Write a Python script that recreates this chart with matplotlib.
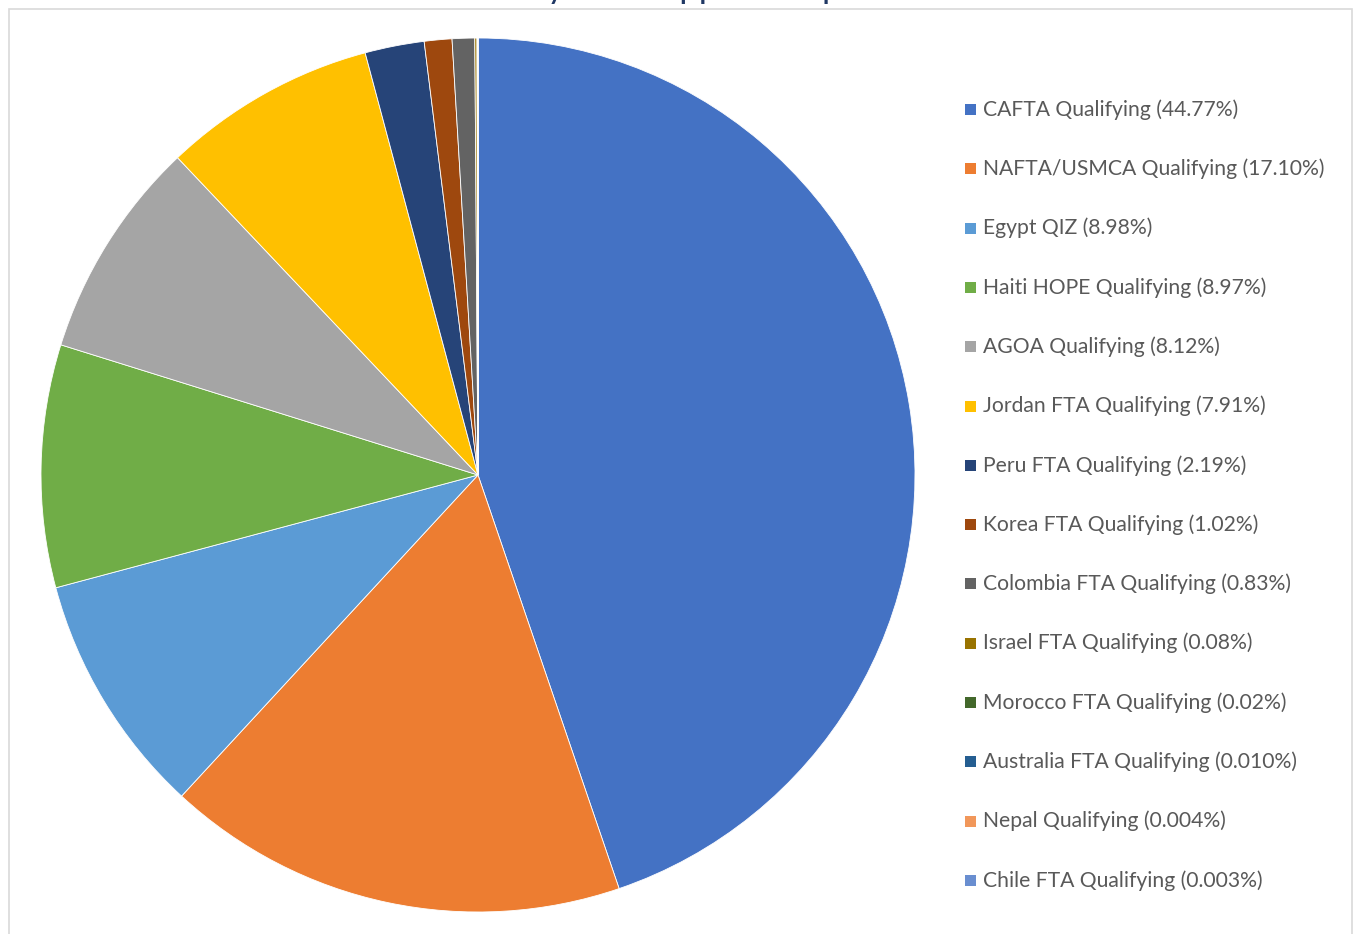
import matplotlib
matplotlib.use("Agg")
import matplotlib.pyplot as plt
from matplotlib.patches import Rectangle
from matplotlib.transforms import IdentityTransform

labels = ["CAFTA Qualifying", "NAFTA/USMCA Qualifying", "Egypt QIZ", "Haiti HOPE Qualifying",
          "AGOA Qualifying", "Jordan FTA Qualifying", "Peru FTA Qualifying", "Korea FTA Qualifying",
          "Colombia FTA Qualifying", "Israel FTA Qualifying", "Morocco FTA Qualifying",
          "Australia FTA Qualifying", "Nepal Qualifying", "Chile FTA Qualifying"]
shares = [44.77, 17.10, 8.98, 8.97, 8.12, 7.91, 2.19, 1.02, 0.83, 0.08, 0.02, 0.010, 0.004, 0.003]
share_text = ["44.77%", "17.10%", "8.98%", "8.97%", "8.12%", "7.91%", "2.19%", "1.02%",
              "0.83%", "0.08%", "0.02%", "0.010%", "0.004%", "0.003%"]
colors = ["#4472C4", "#ED7D31", "#5B9BD5", "#70AD47", "#A5A5A5", "#FFC000", "#264478",
          "#9E480E", "#636363", "#997300", "#43682B", "#255E91", "#F1975A", "#698ED0"]
title = "U.S. Duty-Free Apparel Imports"

W, H = 1353, 934
fig = plt.figure(figsize=(W / 100, H / 100), dpi=100)
fig.patch.set_facecolor("white")

# chart border
fig.patches.append(Rectangle((8.5, -10), 1343, H - 9 + 10, transform=IdentityTransform(),
                             fill=False, edgecolor="#D9D9D9", linewidth=1.2))

# title (cut off at top, as in the reference)
fig.text(660 / W, 1 + 2.0 / H, title, ha="center", va="baseline",
         fontsize=25, color="#203864", family="Lato")

cx, cy, r = 478, 475, 437
ax = fig.add_axes([(cx - r) / W, (H - cy - r) / H, 2 * r / W, 2 * r / H])
ax.pie(shares, colors=colors, startangle=90, counterclock=False, radius=1,
       wedgeprops=dict(edgecolor="white", linewidth=0.6))
ax.set_xlim(-1, 1)
ax.set_ylim(-1, 1)
ax.set_aspect("equal")
ax.axis("off")

# legend
y0, dy = 109.5, 59.3
for i, (lab, st, c) in enumerate(zip(labels, share_text, colors)):
    yc = y0 + i * dy
    fig.patches.append(Rectangle((965, H - yc - 5.5), 11, 11, transform=IdentityTransform(),
                                 facecolor=c, edgecolor="none"))
    fig.text(983 / W, 1 - yc / H, f"{lab} ({st})", ha="left", va="center",
             fontsize=15.2, color="#595959", family="Lato")

fig.savefig("out.png", dpi=100)
